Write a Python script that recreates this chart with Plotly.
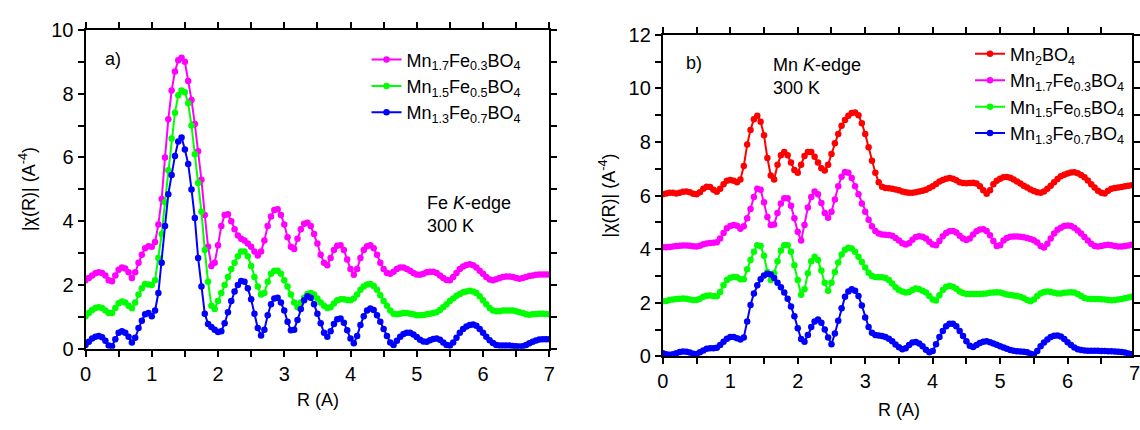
import numpy as np
import plotly.graph_objects as go

# R grid (Angstrom), step 0.05
R = [round(i * 0.05, 2) for i in range(141)]

# ---- Panel a) Fe K-edge ----
FE_MN17 = [2.15, 2.22, 2.3, 2.37, 2.4, 2.38, 2.3, 2.15, 2.12, 2.3, 2.48, 2.55, 2.52, 2.4, 2.22, 2.4, 2.7, 2.95, 3.15, 3.22,
           3.2, 3.35, 3.9, 4.7, 6.0, 7.2, 8.1, 8.7, 9.05, 9.13, 9.0, 8.4, 7.8, 7.05, 6.2, 5.3, 4.2, 3.2, 2.6, 2.7,
           3.25, 3.85, 4.2, 4.22, 4.0, 3.75, 3.55, 3.45, 3.4, 3.3, 3.2, 3.05, 2.93, 3.05, 3.4, 3.85, 4.15, 4.35, 4.38, 4.2,
           3.9, 3.5, 3.2, 3.13, 3.45, 3.75, 3.92, 3.95, 3.85, 3.6, 3.3, 2.95, 2.7, 2.62, 2.85, 3.1, 3.23, 3.25, 3.1, 2.8,
           2.5, 2.32, 2.5, 2.85, 3.1, 3.22, 3.25, 3.15, 2.95, 2.7, 2.5, 2.38, 2.35, 2.42, 2.5, 2.55, 2.55, 2.5, 2.45, 2.38,
           2.33, 2.32, 2.35, 2.4, 2.42, 2.42, 2.38, 2.3, 2.22, 2.16, 2.15, 2.25, 2.38, 2.5, 2.58, 2.63, 2.65, 2.62, 2.55, 2.45,
           2.35, 2.25, 2.17, 2.15, 2.18, 2.22, 2.25, 2.27, 2.27, 2.25, 2.22, 2.2, 2.22, 2.25, 2.28, 2.3, 2.32, 2.33, 2.33, 2.33,
           2.33]
FE_MN15 = [1.02, 1.12, 1.22, 1.28, 1.3, 1.28, 1.2, 1.12, 1.12, 1.28, 1.43, 1.48, 1.45, 1.35, 1.27, 1.45, 1.7, 1.9, 2.03, 2.02,
           2.0, 2.15, 2.85, 3.6, 4.6, 5.6, 6.6, 7.4, 7.95, 8.1, 8.05, 7.7, 7.0, 6.1, 5.2, 4.3, 3.1, 2.1, 1.35, 1.25,
           1.5, 1.75, 2.0, 2.25, 2.5, 2.7, 2.9, 3.05, 3.05, 2.9, 2.6, 2.25, 1.95, 1.7, 1.75, 2.1, 2.35, 2.45, 2.45, 2.35,
           2.15, 1.95, 1.7, 1.45, 1.3, 1.45, 1.6, 1.72, 1.75, 1.7, 1.58, 1.45, 1.35, 1.28, 1.3, 1.42, 1.52, 1.55, 1.55, 1.53,
           1.52, 1.58, 1.7, 1.85, 1.95, 2.02, 2.03, 1.97, 1.85, 1.68, 1.5, 1.35, 1.2, 1.1, 1.08, 1.1, 1.12, 1.12, 1.1, 1.08,
           1.05, 1.05, 1.06, 1.08, 1.1, 1.12, 1.15, 1.22, 1.3, 1.4, 1.5, 1.58, 1.66, 1.72, 1.77, 1.8, 1.82, 1.8, 1.75, 1.65,
           1.52, 1.4, 1.28, 1.2, 1.18, 1.18, 1.2, 1.2, 1.2, 1.2, 1.18, 1.15, 1.12, 1.08, 1.07, 1.08, 1.09, 1.1, 1.1, 1.09,
           1.08]
FE_MN13 = [0.12, 0.22, 0.32, 0.38, 0.4, 0.36, 0.25, 0.1, 0.08, 0.3, 0.5, 0.55, 0.5, 0.38, 0.2, 0.35, 0.65, 0.88, 1.08, 1.12,
           1.02, 1.2, 1.75, 2.7, 3.85, 4.85, 5.45, 6.05, 6.5, 6.63, 6.25, 5.8, 5.0, 4.1, 2.85, 1.95, 1.1, 0.78, 0.68, 0.6,
           0.53, 0.55, 0.8, 1.15, 1.5, 1.8, 2.0, 2.13, 2.1, 1.9, 1.55, 1.1, 0.65, 0.42, 0.6, 1.05, 1.4, 1.58, 1.6, 1.45,
           1.2, 0.85, 0.58, 0.6, 0.9, 1.25, 1.52, 1.65, 1.6, 1.4, 1.1, 0.8, 0.5, 0.38, 0.55, 0.78, 0.93, 0.95, 0.82, 0.58,
           0.32, 0.17, 0.4, 0.75, 1.02, 1.2, 1.26, 1.22, 1.05, 0.85, 0.62, 0.4, 0.2, 0.12, 0.25, 0.38, 0.46, 0.5, 0.5, 0.45,
           0.37, 0.28, 0.23, 0.22, 0.27, 0.31, 0.32, 0.28, 0.2, 0.12, 0.1, 0.2, 0.35, 0.5, 0.62, 0.7, 0.75, 0.76, 0.72, 0.62,
           0.5, 0.38, 0.27, 0.18, 0.12, 0.1, 0.1, 0.1, 0.1, 0.09, 0.08, 0.07, 0.08, 0.12, 0.17, 0.22, 0.26, 0.29, 0.3, 0.3,
           0.3]

# ---- Panel b) Mn K-edge ----
MN_MN2 = [6.05, 6.08, 6.1, 6.1, 6.08, 6.1, 6.14, 6.15, 6.12, 6.07, 6.05, 6.12, 6.25, 6.33, 6.32, 6.22, 6.14, 6.25, 6.42, 6.55,
          6.58, 6.55, 6.5, 6.6, 7.1, 7.9, 8.45, 8.85, 8.98, 8.75, 8.25, 7.4, 6.75, 6.6, 7.15, 7.5, 7.62, 7.5, 7.23, 6.95,
          6.85, 7.15, 7.48, 7.62, 7.62, 7.45, 7.23, 7.02, 6.93, 7.15, 7.55, 7.95, 8.3, 8.6, 8.82, 8.98, 9.08, 9.1, 9.0, 8.7,
          8.3, 7.8, 7.3, 6.85, 6.5, 6.33, 6.28, 6.27, 6.25, 6.23, 6.2, 6.15, 6.12, 6.1, 6.1, 6.12, 6.15, 6.18, 6.22, 6.28,
          6.35, 6.43, 6.52, 6.58, 6.63, 6.65, 6.63, 6.57, 6.5, 6.47, 6.46, 6.47, 6.48, 6.45, 6.35, 6.2, 6.07, 6.2, 6.42, 6.55,
          6.63, 6.68, 6.69, 6.66, 6.6, 6.52, 6.45, 6.37, 6.3, 6.23, 6.17, 6.12, 6.1, 6.15, 6.25, 6.37, 6.5, 6.62, 6.72, 6.78,
          6.82, 6.86, 6.87, 6.83, 6.77, 6.68, 6.56, 6.42, 6.3, 6.18, 6.1, 6.08, 6.18, 6.25, 6.28, 6.3, 6.32, 6.35, 6.37, 6.38,
          6.4]
MN_MN17 = [4.07, 4.07, 4.08, 4.1, 4.12, 4.13, 4.14, 4.14, 4.13, 4.11, 4.1, 4.13, 4.18, 4.21, 4.23, 4.24, 4.26, 4.4, 4.6, 4.78,
           4.86, 4.9, 4.87, 4.76, 4.85, 5.15, 5.5, 5.95, 6.25, 6.22, 5.75, 5.2, 4.9, 4.92, 5.35, 5.7, 5.9, 5.9, 5.62, 5.15,
           4.65, 4.32, 4.9, 5.55, 5.95, 6.15, 6.05, 5.72, 5.35, 5.17, 5.4, 5.85, 6.35, 6.7, 6.88, 6.85, 6.65, 6.35, 6.05, 5.7,
           5.4, 5.1, 4.85, 4.68, 4.58, 4.55, 4.54, 4.53, 4.5, 4.42, 4.32, 4.22, 4.17, 4.22, 4.35, 4.45, 4.48, 4.46, 4.4, 4.28,
           4.17, 4.15, 4.3, 4.48, 4.6, 4.67, 4.68, 4.62, 4.5, 4.4, 4.34, 4.4, 4.55, 4.67, 4.73, 4.74, 4.68, 4.52, 4.3, 4.12,
           4.15, 4.32, 4.42, 4.46, 4.47, 4.47, 4.46, 4.44, 4.42, 4.38, 4.33, 4.25, 4.12, 4.06, 4.2, 4.4, 4.58, 4.72, 4.8, 4.86,
           4.88, 4.86, 4.8, 4.7, 4.58, 4.45, 4.32, 4.2, 4.12, 4.1, 4.12, 4.15, 4.16, 4.15, 4.12, 4.1, 4.1, 4.12, 4.14, 4.16,
           4.17]
MN_MN15 = [2.06, 2.07, 2.1, 2.12, 2.14, 2.15, 2.16, 2.15, 2.12, 2.1, 2.1, 2.15, 2.22, 2.26, 2.27, 2.25, 2.24, 2.4, 2.65, 2.85,
           2.93, 2.96, 2.95, 2.88, 2.88, 3.25, 3.6, 3.9, 4.15, 4.12, 3.75, 3.15, 2.85, 3.1, 3.55, 3.95, 4.15, 4.15, 3.9, 3.4,
           2.85, 2.3, 2.5, 3.1, 3.55, 3.72, 3.6, 3.2, 2.75, 2.45, 2.75, 3.15, 3.5, 3.8, 3.98, 4.05, 4.02, 3.9, 3.72, 3.52,
           3.32, 3.12, 3.0, 2.96, 2.95, 2.95, 2.92, 2.85, 2.72, 2.58, 2.48, 2.42, 2.38, 2.4, 2.48, 2.53, 2.5, 2.45, 2.38, 2.25,
           2.12, 2.08, 2.28, 2.48, 2.6, 2.63, 2.6, 2.52, 2.42, 2.36, 2.33, 2.33, 2.33, 2.33, 2.33, 2.34, 2.35, 2.37, 2.38, 2.39,
           2.38, 2.35, 2.31, 2.29, 2.27, 2.25, 2.22, 2.17, 2.1, 2.06, 2.12, 2.25, 2.35, 2.4, 2.42, 2.4, 2.37, 2.35, 2.35, 2.37,
           2.38, 2.39, 2.38, 2.33, 2.25, 2.18, 2.15, 2.14, 2.14, 2.14, 2.13, 2.12, 2.1, 2.09, 2.1, 2.12, 2.14, 2.17, 2.2, 2.22,
           2.24]
MN_MN13 = [0.12, 0.08, 0.06, 0.08, 0.12, 0.16, 0.18, 0.17, 0.14, 0.1, 0.09, 0.15, 0.22, 0.28, 0.3, 0.3, 0.32, 0.42, 0.55, 0.66,
           0.72, 0.72, 0.68, 0.63, 0.7, 1.3, 1.92, 2.35, 2.65, 2.88, 3.02, 3.08, 3.05, 2.92, 2.75, 2.58, 2.38, 2.15, 1.86, 1.5,
           1.05, 0.65, 0.55, 0.8, 1.1, 1.3, 1.38, 1.25, 1.0, 0.7, 0.45, 0.85, 1.33, 1.8, 2.22, 2.42, 2.5, 2.45, 2.25, 1.9,
           1.45, 1.1, 0.88, 0.8, 0.78, 0.76, 0.72, 0.66, 0.56, 0.44, 0.34, 0.27, 0.3, 0.42, 0.52, 0.54, 0.48, 0.38, 0.25, 0.15,
           0.2, 0.45, 0.72, 0.95, 1.12, 1.22, 1.22, 1.12, 0.95, 0.76, 0.56, 0.4, 0.35, 0.42, 0.5, 0.55, 0.56, 0.53, 0.48, 0.43,
           0.38, 0.33, 0.28, 0.24, 0.21, 0.19, 0.18, 0.17, 0.15, 0.1, 0.07, 0.2, 0.38, 0.52, 0.63, 0.72, 0.77, 0.78, 0.74, 0.65,
           0.53, 0.42, 0.33, 0.27, 0.24, 0.22, 0.21, 0.21, 0.21, 0.21, 0.2, 0.2, 0.19, 0.19, 0.18, 0.17, 0.16, 0.14, 0.11, 0.08,
           0.06]

NAME_MN2 = "Mn<sub>2</sub>BO<sub>4</sub>"
NAME_MN17 = "Mn<sub>1.7</sub>Fe<sub>0.3</sub>BO<sub>4</sub>"
NAME_MN15 = "Mn<sub>1.5</sub>Fe<sub>0.5</sub>BO<sub>4</sub>"
NAME_MN13 = "Mn<sub>1.3</sub>Fe<sub>0.7</sub>BO<sub>4</sub>"

RED, MAGENTA, GREEN, BLUE = "#FF0000", "#FF00FF", "#00FF00", "#0000FF"
FONT = "Liberation Sans, Arial, sans-serif"

W, H = 1140, 430
def px_x(p): return p / W
def px_y(p): return (H - p) / H

XA_DOM = [px_x(80.5), px_x(550)]
YA_DOM = [px_y(356), px_y(20)]
XB_DOM = [px_x(665), 1.0]
YB_DOM = [px_y(364), px_y(25)]
XB_MAX = (1140 - 665) / 68.3

tickfont = dict(family=FONT, size=20, color="black")

# tick positions: labelled majors plus unlabelled halves
XT = [i * 0.5 for i in range(15)]
XT_TXT = [str(int(v)) if v == int(v) else "" for v in XT]
YT_A = list(range(0, 11))
YT_A_TXT = [str(v) if v % 2 == 0 else "" for v in YT_A]
YT_B = list(range(0, 13))
YT_B_TXT = [str(v) if v % 2 == 0 else "" for v in YT_B]

fig = go.Figure()

def add(y, name, color, xa, ya, legend, group):
    fig.add_trace(go.Scatter(
        x=R, y=y, name=name, mode="lines+markers", xaxis=xa, yaxis=ya, legend=legend,
        legendgroup=group, line=dict(color=color, width=2), marker=dict(color=color, size=6.5),
        hoverinfo="skip"))

add(FE_MN17, NAME_MN17, MAGENTA, "x", "y", "legend", "a1")
add(FE_MN15, NAME_MN15, GREEN, "x", "y", "legend", "a2")
add(FE_MN13, NAME_MN13, BLUE, "x", "y", "legend", "a3")
add(MN_MN2, NAME_MN2, RED, "x2", "y2", "legend2", "b1")
add(MN_MN17, NAME_MN17, MAGENTA, "x2", "y2", "legend2", "b2")
add(MN_MN15, NAME_MN15, GREEN, "x2", "y2", "legend2", "b3")
add(MN_MN13, NAME_MN13, BLUE, "x2", "y2", "legend2", "b4")

def axis(dom, rng, anchor, side, tv, tt):
    return dict(domain=dom, range=rng, anchor=anchor, side=side, showline=True, linecolor="black",
                linewidth=2, mirror="ticks", showgrid=False, zeroline=False, ticks="outside", ticklen=6,
                tickwidth=1.5, tickcolor="black", tickfont=tickfont, tickmode="array",
                tickvals=tv, ticktext=tt)

legend_common = dict(xanchor="left", yanchor="top", bgcolor="rgba(0,0,0,0)", borderwidth=0,
                     font=dict(family=FONT, size=18, color="black"), tracegroupgap=0, itemwidth=30)

fig.update_layout(
    width=W, height=H, margin=dict(l=0, r=0, t=0, b=0),
    paper_bgcolor="white", plot_bgcolor="white",
    font=dict(family=FONT, size=18, color="black"),
    xaxis=axis(XA_DOM, [0, 7], "y", "bottom", XT, XT_TXT),
    yaxis=axis(YA_DOM, [0, 10], "x", "left", YT_A, YT_A_TXT),
    xaxis2=axis(XB_DOM, [0, XB_MAX], "y2", "bottom", XT, XT_TXT),
    yaxis2=axis(YB_DOM, [0, 12], "x2", "left", YT_B, YT_B_TXT),
    legend=dict(legend_common, x=px_x(365), y=px_y(32)),
    legend2=dict(legend_common, x=px_x(976), y=px_y(26)),
)

ann = []
def text(x, y, s, size=18, xanchor="left", angle=0):
    ann.append(dict(x=px_x(x), y=px_y(y), xref="paper", yref="paper", text=s, showarrow=False,
                    xanchor=xanchor, yanchor="middle", align="left", textangle=angle,
                    font=dict(family=FONT, size=size, color="black")))

text(98, 51, "a)")
text(424, 214, "Fe <i>K</i>-edge<br>300 K")
text(686, 55, "b)")
text(775, 69, "Mn <i>K</i>-edge<br>300 K")
text(316, 410, "R (A)", xanchor="center")
text(904, 421, "R (A)", xanchor="center")
text(22, 188, "|χ(R)| (A<sup>-4</sup>)", xanchor="center", angle=-90)
text(609, 195, "|χ(R)| (A<sup>-4</sup>)", xanchor="center", angle=-90)
ann.append(dict(x=px_x(1143), y=px_y(381), xref="paper", yref="paper", text="7", showarrow=False,
                xanchor="center", yanchor="middle", font=tickfont))
fig.update_layout(annotations=ann)

fig.write_html("out.html", config={"displayModeBar": False})
